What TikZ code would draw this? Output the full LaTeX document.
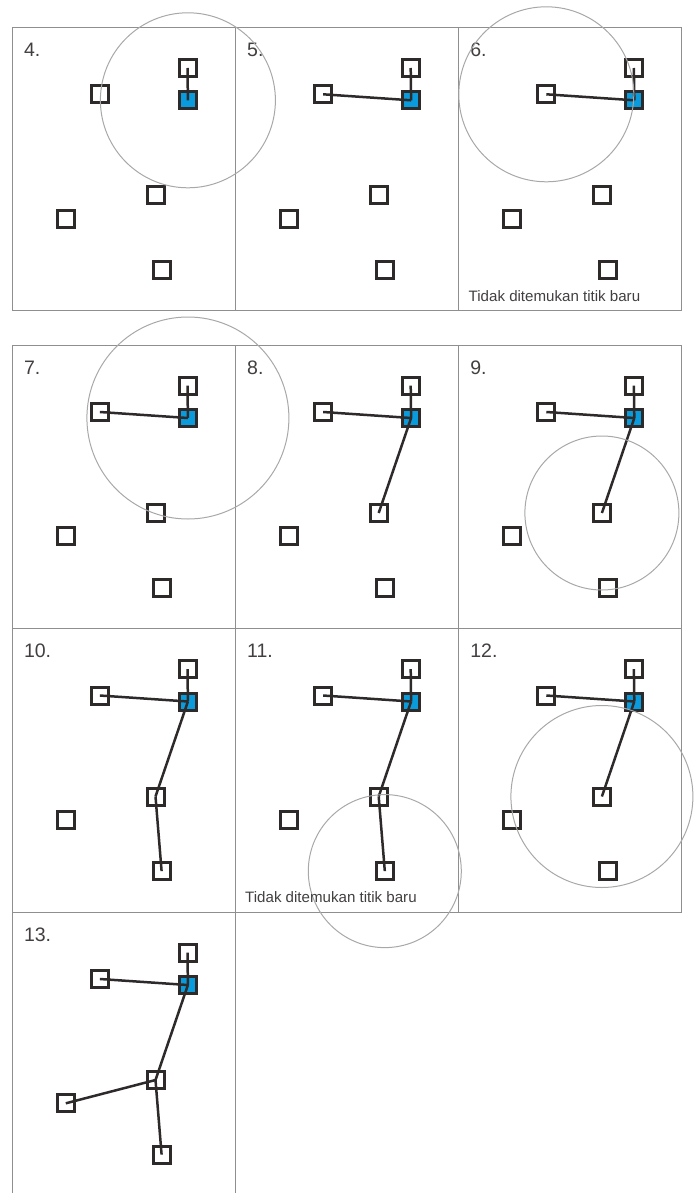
\documentclass[tikz,border=0pt]{standalone}
\usepackage{fontspec}
\setmainfont{Liberation Sans}
\usepackage{tikz}
\definecolor{ink}{HTML}{2E2A2A}
\definecolor{sky}{HTML}{0A9BDC}
\definecolor{framegray}{HTML}{8F8F8F}
\definecolor{ringgray}{HTML}{A8A8A8}

\begin{document}
\begin{tikzpicture}[x=1pt,y=-1pt,
    frame/.style={draw=framegray,line width=1},
    ring/.style={draw=ringgray,line width=1},
    sq/.style={draw=ink,line width=3,minimum size=17,inner sep=0,rectangle},
    link/.style={draw=ink,line width=2.5},
    num/.style={anchor=base west,inner sep=0,font=\fontsize{19.5}{21}\selectfont,text=ink!90},
    note/.style={anchor=base west,inner sep=0,font=\fontsize{15.1}{17}\selectfont,text=ink!90}]
    \useasboundingbox (0,0) rectangle (696,1193);
    % one panel per step: number / corner / edges found so far
    \foreach \n/\px/\py/\links in {
        4/12.3/27.3/{top/blue},
        5/235.5/27.3/{top/blue,left/blue},
        6/458.7/27.3/{top/blue,left/blue},
        7/12.3/345/{top/blue,left/blue},
        8/235.5/345/{top/blue,left/blue,blue/mid},
        9/458.7/345/{top/blue,left/blue,blue/mid},
        10/12.3/628.5/{top/blue,left/blue,blue/mid,mid/bot},
        11/235.5/628.5/{top/blue,left/blue,blue/mid,mid/bot},
        12/458.7/628.5/{top/blue,left/blue,blue/mid},
        13/12.3/912/{top/blue,left/blue,blue/mid,mid/bot,ll/mid}}{
      \draw[frame] (\px,\py) rectangle ++(223.2,283.5);
      \node[num] (lab\n) at (\px+11.5,\py+29) {\n.};
      \node[sq] (top\n) at (\px+175.2,\py+40.7) {};
      \node[sq,fill=sky] (blue\n) at (\px+175.6,\py+73) {};
      \node[sq] (left\n) at (\px+87.6,\py+67) {};
      \node[sq] (mid\n) at (\px+143.2,\py+168) {};
      \node[sq] (ll\n) at (\px+53.5,\py+191.3) {};
      \node[sq] (bot\n) at (\px+149.3,\py+242.6) {};
      \foreach \a/\b in \links {
        \draw[link] (\a\n.center) -- (\b\n.center);}
    }
    % search radius
    \draw[ring] (blue4.center) circle[radius=87.5];
    \draw[ring] (left6.center) circle[radius=87.5];
    \draw[ring] (blue7.center) circle[radius=101];
    \draw[ring] (mid9.center) circle[radius=77];
    \draw[ring] (bot11.center) circle[radius=76.5];
    \draw[ring] (mid12.center) circle[radius=91];
    \node[note] (none6) at (468.5,301.7) {Tidak ditemukan titik baru};
    \node[note] (none11) at (245,902.5) {Tidak ditemukan titik baru};
\end{tikzpicture}
\end{document}
